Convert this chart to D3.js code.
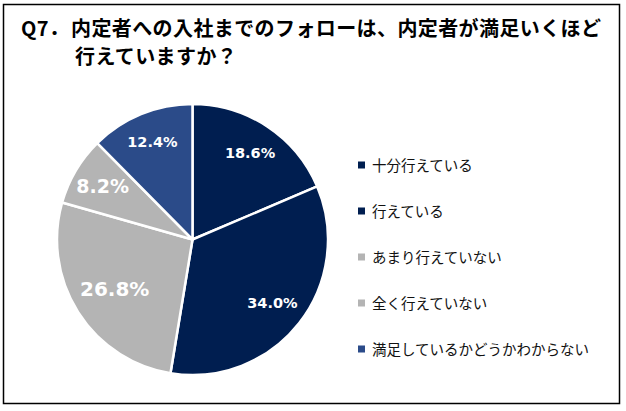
<!DOCTYPE html>
<html>
<head>
<meta charset="utf-8">
<script src="https://cdn.jsdelivr.net/npm/d3@7"></script>
<style>
  body { margin: 0; background: #fff; }
</style>
</head>
<body>
<div id="chart"></div>
<script>
// Data
const categories = ["十分行えている", "行えている", "あまり行えていない", "全く行えていない", "満足しているかどうかわからない"];
const values = [18.6, 34.0, 26.8, 8.2, 12.4];
const colors = ["#001E50", "#001E50", "#B4B4B4", "#B4B4B4", "#2B4B89"];
const labelSizes = [14.5, 14.5, 20, 19, 14.5];
const labelRadius = [0.77, 0.75, 0.68, 0.77, 0.78];

const width = 626, height = 411;
const jp = '"Noto Sans CJK JP", "Noto Sans", sans-serif';

const svg = d3.select('#chart')
    .append('svg')
    .attr('width', width)
    .attr('height', height);

// Frame
svg.append('rect')
    .attr('x', 3.5)
    .attr('y', 4.5)
    .attr('width', 616)
    .attr('height', 399)
    .attr('fill', 'none')
    .attr('stroke', '#000')
    .attr('stroke-width', 1.5);

// Title
const titleStyle = sel => sel
    .style('font-family', jp)
    .style('font-size', '20px')
    .style('font-weight', 'bold')
    .style('letter-spacing', '0.4px');

svg.append('text')
    .attr('x', 21)
    .attr('y', 36)
    .call(titleStyle)
    .text('Q7．');

svg.append('text')
    .attr('x', 71)
    .attr('y', 36)
    .call(titleStyle)
    .text('内定者への入社までのフォローは、内定者が満足いくほど');

svg.append('text')
    .attr('x', 75)
    .attr('y', 64)
    .call(titleStyle)
    .text('行えていますか？');

// Pie
const cx = 192.5, cy = 239.5, radius = 135.5;

const pie = d3.pie()
    .value(d => d)
    .sort(null);

const arc = d3.arc()
    .innerRadius(0)
    .outerRadius(radius);

const g = svg.append('g')
    .attr('transform', `translate(${cx},${cy})`);

const arcs = pie(values);

g.selectAll('path')
    .data(arcs)
    .enter()
    .append('path')
    .attr('d', arc)
    .attr('fill', (d, i) => colors[i])
    .attr('stroke', '#fff')
    .attr('stroke-width', 2.5)
    .attr('stroke-linejoin', 'round');

g.selectAll('.label')
    .data(arcs)
    .enter()
    .append('text')
    .attr('class', 'label')
    .attr('transform', (d, i) => {
        const r = radius * labelRadius[i];
        return `translate(${d3.arc().innerRadius(r).outerRadius(r).centroid(d)})`;
    })
    .attr('text-anchor', 'middle')
    .attr('dy', '0.36em')
    .attr('fill', '#fff')
    .style('font-family', 'Verdana, "DejaVu Sans", sans-serif')
    .style('font-weight', 'bold')
    .style('font-size', (d, i) => labelSizes[i] + 'px')
    .text(d => d.data.toFixed(1) + '%');

// Legend
const legend = svg.append('g')
    .attr('transform', 'translate(358, 165)');

categories.forEach((c, i) => {
    legend.append('rect')
        .attr('x', 0)
        .attr('y', i * 46 - 3.5)
        .attr('width', 7)
        .attr('height', 7)
        .attr('fill', colors[i]);

    legend.append('text')
        .attr('x', 14)
        .attr('y', i * 46)
        .attr('dy', '0.38em')
        .attr('fill', '#111')
        .style('font-family', jp)
        .style('font-size', '14.5px')
        .text(c);
});
</script>
</body>
</html>
